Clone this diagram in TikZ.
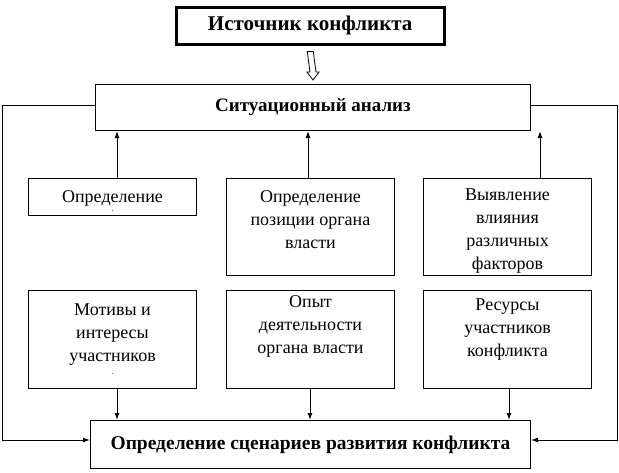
\documentclass[tikz,border=0pt]{standalone}
\usepackage{fontspec}
\setmainfont{Liberation Serif}
\usetikzlibrary{arrows.meta,calc}
\begin{document}
\begin{tikzpicture}[x=1pt,y=-1pt,
  box/.style={draw, line width=1pt, inner sep=0pt, anchor=north west, minimum width=168pt},
  txt/.style={inner sep=0pt, anchor=north, align=center, font=\fontsize{18}{23}\selectfont},
  conn/.style={line width=1pt, -{Latex[length=7pt,width=5pt]}},
  line/.style={line width=1pt}]
\useasboundingbox (0,0) rectangle (619,472);
% top
\node[draw, line width=2.5pt, anchor=north west, minimum width=268pt, minimum height=37pt, inner sep=0pt,
  font=\bfseries\fontsize{21}{24}\selectfont] (src) at (175,6) {Источник конфликта};
\node[draw, line width=1pt, anchor=north west, minimum width=435pt, minimum height=46pt, inner sep=0pt,
  font=\bfseries\fontsize{19}{22}\selectfont] (sit) at (95,84) {Ситуационный анализ};
% hollow arrow
\draw[line width=0.8pt] ($(src.south)+(-3,6)$) -- ($(src.south)+(3,6)$) -- ($(sit.north)+(3,-12)$)
  -- ($(sit.north)+(6,-12)$) -- ($(sit.north)+(0,-4)$) -- ($(sit.north)+(-6,-12)$)
  -- ($(sit.north)+(-3,-12)$) -- cycle;
% row 1
\node[box, minimum height=37pt] (a) at (28,178) {};
\node[txt] (at) at ($(a.north)+(0,12)$) {Определение\\[-14pt]{\fontsize{8}{8}\selectfont .}};
\node[box, minimum height=97pt] (b) at (226,178) {};
\node[txt] (bt) at ($(b.north)+(0,12)$) {Определение\\позиции органа\\власти};
\node[box, minimum height=97pt] (c) at (423,178) {};
\node[txt] (ct) at ($(c.north)+(0,11)$) {Выявление\\влияния\\различных\\факторов};
% row 2
\node[box, minimum height=98pt] (d) at (28,290) {};
\node[txt] (dt) at ($(d.north)+(0,14)$) {Мотивы и\\интересы\\участников\\[-10pt]{\fontsize{8}{8}\selectfont .}};
\node[box, minimum height=98pt] (e) at (226,290) {};
\node[txt] (et) at ($(e.north)+(0,5)$) {Опыт\\деятельности\\органа власти};
\node[box, minimum height=98pt] (f) at (423,290) {};
\node[txt] (ft) at ($(f.north)+(0,9)$) {Ресурсы\\участников\\конфликта};
% bottom
\node[draw, line width=1pt, anchor=north west, minimum width=440pt, minimum height=48pt, inner sep=0pt,
  font=\bfseries\fontsize{19.5}{22}\selectfont] (scn) at (90,420) {Определение сценариев развития конфликта};
% up arrows
\draw[conn] (a.north -| 117,0) -- (sit.south -| 117,0);
\draw[conn] (b.north -| 308,0) -- (sit.south -| 308,0);
\coordinate (rt) at (540,131);
\draw[conn] (c.north -| rt) -- (rt);
% down arrows
\draw[conn] (d.south -| 117,0) -- (scn.north -| 117,0);
\draw[conn] (e.south -| 310,0) -- (scn.north -| 310,0);
\draw[conn] (f.south -| 509,0) -- (scn.north -| 509,0);
% side loops
\coordinate (lt) at (2,105);
\coordinate (lb) at (2,440);
\coordinate (rtp) at (617,105);
\coordinate (rb) at (617,440);
\draw[conn] (sit.west |- lt) -- (lt) -- (lb) -- (scn.west |- lb);
\draw[conn] (sit.east |- rtp) -- (rtp) -- (rb) -- (scn.east |- rb);
\end{tikzpicture}
\end{document}
